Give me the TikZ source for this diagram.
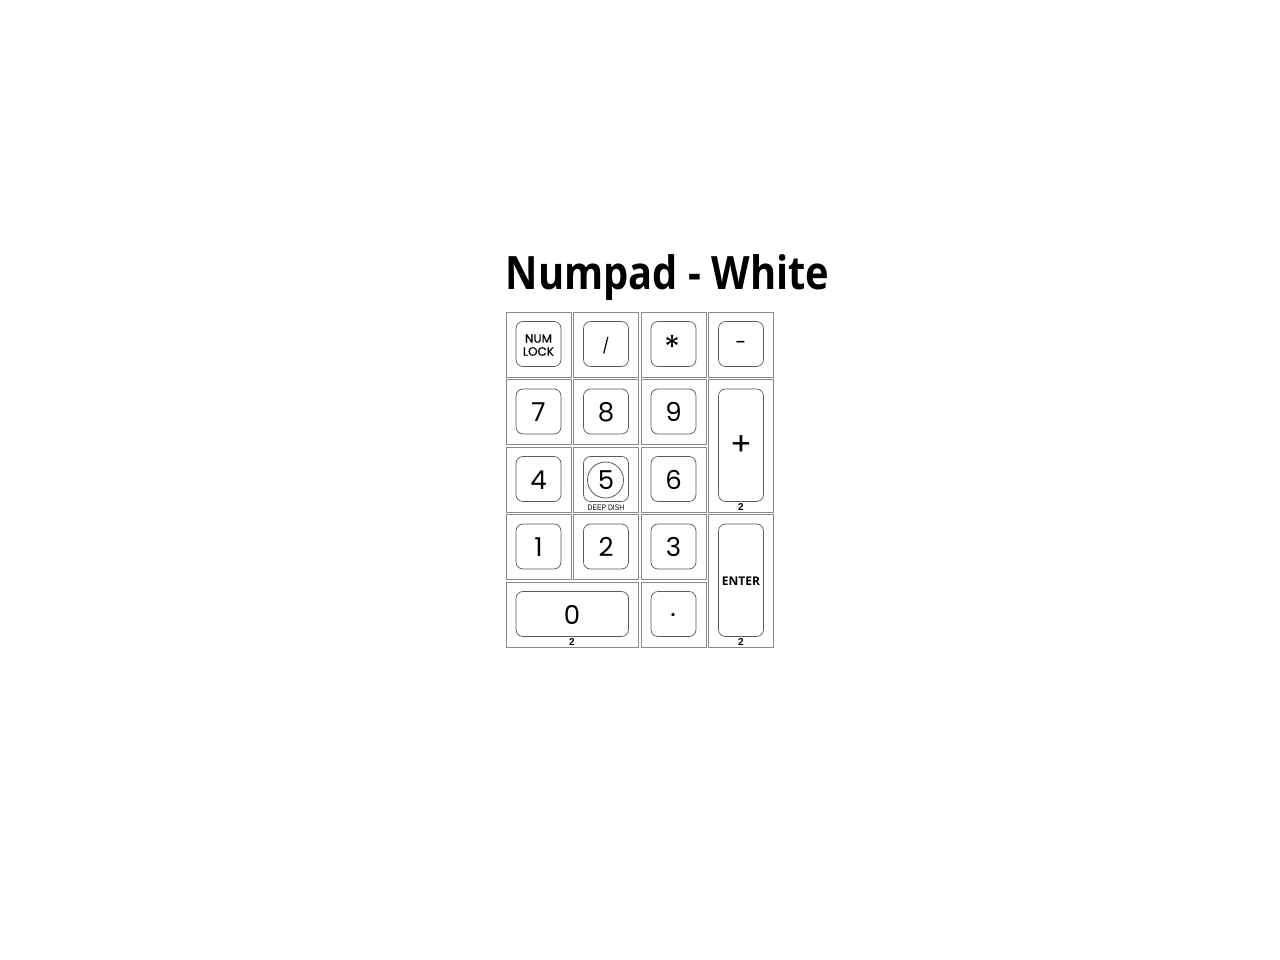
\documentclass[tikz,border=0pt]{standalone}
\usepackage{fontspec}
\newfontfamily\keyfont{Poppins}
\newfontfamily\keyfontmed[FakeBold=0.4]{Poppins}
\newfontfamily\titlefont{Open Sans}
\newfontfamily\smallfont{Liberation Sans}
\definecolor{cellline}{HTML}{8A8A8A}
\definecolor{capline}{HTML}{5A5A5A}
\begin{document}
\begin{tikzpicture}[x=1pt,y=-1pt,
  cell/.style={draw=cellline,line width=0.8pt,fill=white,inner sep=0pt,outer sep=0pt},
  keytop/.style={draw=capline,line width=0.7pt,rounded corners=7pt,inner sep=0pt,outer sep=0pt},
  legend/.style={font=\keyfont\fontsize{26}{26}\selectfont,inner sep=0pt,text=black},
  sublabel/.style={font=\smallfont\bfseries\fontsize{10}{10}\selectfont,inner sep=0pt},
]
\useasboundingbox (0,0) rectangle (1280,960);
\fill[white] (0,0) rectangle (1280,960);
% title
\node[font=\titlefont\bfseries\fontsize{46}{46}\selectfont,anchor=base,inner sep=0pt] (title) at (667.5,290) {\scalebox{0.866}[1]{Numpad - White}};
% key macro: name, col, row, w, h
\newcommand\numkey[5]{%
  \pgfmathsetmacro\cx{506+#2*67.5+(#4*67.5-2.5)/2}%
  \pgfmathsetmacro\cy{312+#3*67.5+(#5*67.5-2.5)/2}%
  \pgfmathsetmacro\cw{#4*67.5-2.5}%
  \pgfmathsetmacro\ch{#5*67.5-2.5}%
  \node[cell,minimum width=\cw pt,minimum height=\ch pt] (#1cell) at (\cx,\cy) {};
  \node[keytop,minimum width=\cw pt-20pt,minimum height=\ch pt-20pt] (#1cap) at (\cx,\cy-0.5) {};
}
\numkey{numlock}{0}{0}{1}{1}
\numkey{slash}{1}{0}{1}{1}
\numkey{star}{2}{0}{1}{1}
\numkey{minus}{3}{0}{1}{1}
\numkey{seven}{0}{1}{1}{1}
\numkey{eight}{1}{1}{1}{1}
\numkey{nine}{2}{1}{1}{1}
\numkey{plus}{3}{1}{1}{2}
\numkey{four}{0}{2}{1}{1}
\numkey{five}{1}{2}{1}{1}
\numkey{six}{2}{2}{1}{1}
\numkey{one}{0}{3}{1}{1}
\numkey{two}{1}{3}{1}{1}
\numkey{three}{2}{3}{1}{1}
\numkey{enter}{3}{3}{1}{2}
\numkey{zero}{0}{4}{2}{1}
\numkey{dot}{2}{4}{1}{1}
% legends
\node[font=\keyfontmed\fontsize{12}{13}\selectfont,inner sep=0pt] (numlocklbl) at (538.5,338.5) {NUM};
\node[font=\keyfontmed\fontsize{12}{13}\selectfont,inner sep=0pt] (numlocklbl2) at (538.5,351.5) {LOCK};
\node[legend,font=\keyfont\fontsize{15}{15}\selectfont] (slashlbl) at (606,345.5) {/};
\node[legend,font=\keyfont\fontsize{33}{33}\selectfont] (starlbl) at (673,347.5) {*};
\node[legend,font=\keyfont\fontsize{20}{20}\selectfont] (minuslbl) at (741,345) {-};
\node[legend] (sevenlbl) at (538.5,412) {7};
\node[legend] (eightlbl) at (606,412) {8};
\node[legend] (ninelbl) at (673.5,412) {9};
\node[legend,font=\keyfont\fontsize{32}{32}\selectfont] (pluslbl) at (741,446) {+};
\node[legend] (fourlbl) at (538.5,480) {4};
\node[legend] (fivelbl) at (606,480) {5};
\draw[capline,line width=0.8pt] (fivelbl.center) ++(-0.5,0) coordinate (fivec) circle[radius=18];
\node[legend] (sixlbl) at (673.5,480) {6};
\node[legend] (onelbl) at (538.5,547) {1};
\node[legend] (twolbl) at (606,547) {2};
\node[legend] (threelbl) at (673.5,547) {3};
\node[font=\titlefont\bfseries\fontsize{12}{12}\selectfont,inner sep=0pt] (enterlbl) at (741,581) {ENTER};
\node[legend] (zerolbl) at (572,615) {0};
\node[legend] (dotlbl) at (673,615) {.};
% sub labels
\node[sublabel] (plus2) at (741,507.5) {2};
\node[sublabel] (enter2) at (741,642.5) {2};
\node[sublabel] (zero2) at (572,642.5) {2};
\node[font=\smallfont\fontsize{8}{8}\selectfont,inner sep=0pt] (deepdish) at (606,507.5) {\scalebox{0.85}[1]{DEEP DISH}};
\end{tikzpicture}
\end{document}
